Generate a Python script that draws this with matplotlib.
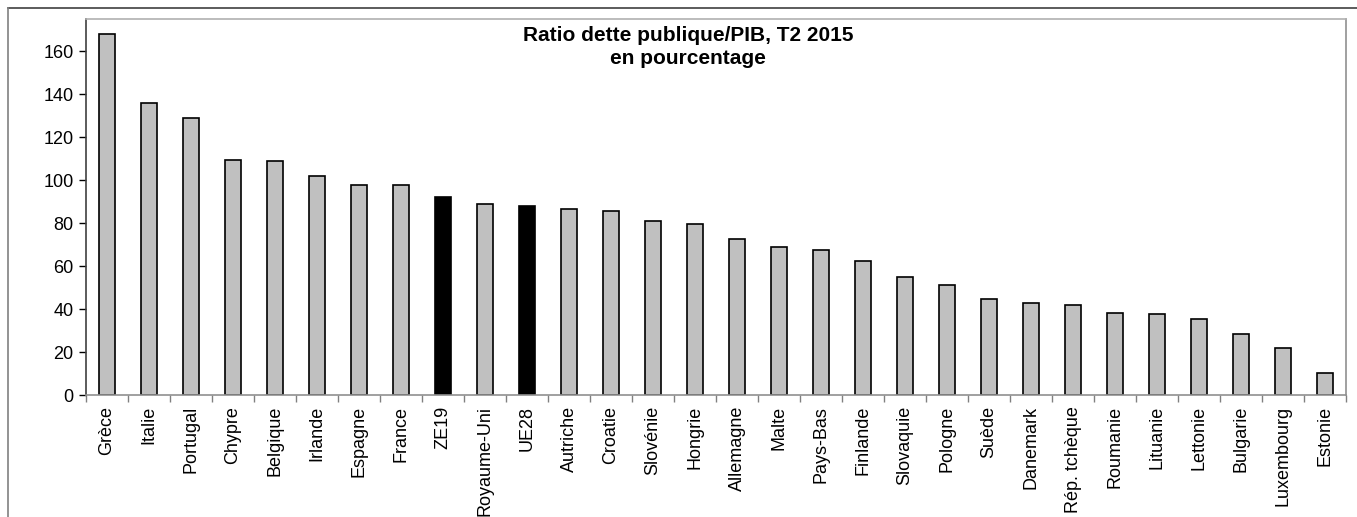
import matplotlib
matplotlib.use("Agg")
import matplotlib.pyplot as plt
from matplotlib.lines import Line2D

plt.rcParams["font.family"] = ["Liberation Sans", "DejaVu Sans"]

countries = ["Grèce", "Italie", "Portugal", "Chypre", "Belgique", "Irlande", "Espagne", "France",
             "ZE19", "Royaume-Uni", "UE28", "Autriche", "Croatie", "Slovénie", "Hongrie", "Allemagne",
             "Malte", "Pays-Bas", "Finlande", "Slovaquie", "Pologne", "Suède", "Danemark",
             "Rép. tchèque", "Roumanie", "Lituanie", "Lettonie", "Bulgarie", "Luxembourg", "Estonie"]
debt_ratio = [167.8, 135.8, 128.7, 109.6, 109.1, 102.0, 97.8, 97.7,
              92.2, 89.1, 87.9, 86.5, 85.7, 80.9, 79.5, 72.7,
              69.0, 67.3, 62.5, 54.7, 51.2, 44.5, 42.9,
              41.9, 38.1, 37.8, 35.3, 28.5, 22.0, 10.2]
aggregates = ["ZE19", "UE28"]

W, H = 1357, 517
fig = plt.figure(figsize=(W / 100, H / 100), dpi=100)
ax = fig.add_axes([86 / W, 1 - 395 / H, (1346 - 86) / W, (395 - 19) / H])

colors = ["black" if c in aggregates else "#c0c0c0" for c in countries]
x = list(range(len(countries)))
ax.bar(x, debt_ratio, width=0.4, color=colors, edgecolor="black", linewidth=1.2)

ax.set_xlim(-0.5, len(countries) - 0.5)
ax.set_ylim(0, 175)
ax.set_yticks(range(0, 161, 20))
ax.tick_params(axis="y", labelsize=13, length=5, width=1, direction="out", pad=4)

# category labels between the boundary ticks
ax.set_xticks(x)
ax.set_xticklabels(countries, rotation=90, fontsize=13)
ax.tick_params(axis="x", length=0, pad=8)
ax.set_xticks([i - 0.5 for i in range(len(countries) + 1)], minor=True)
ax.tick_params(axis="x", which="minor", length=5, width=1, color="#808080")

ax.spines["left"].set_color("#404040")
ax.spines["bottom"].set_color("#909090")
ax.spines["top"].set_color("#b0b0b0")
ax.spines["right"].set_color("#909090")
for s in ax.spines.values():
    s.set_linewidth(1.2)

fig.text(688 / W, 1 - 26 / H, "Ratio dette publique/PIB, T2 2015\nen pourcentage",
         ha="center", va="top", fontsize=15, fontweight="bold", linespacing=1.3)

# outer chart frame
fig.add_artist(Line2D([8 / W, 1], [1 - 8 / H, 1 - 8 / H], color="#404040", linewidth=1.2))
fig.add_artist(Line2D([8 / W, 8 / W], [0, 1 - 8 / H], color="#808080", linewidth=1.2))

fig.savefig("out.png", dpi=100)
